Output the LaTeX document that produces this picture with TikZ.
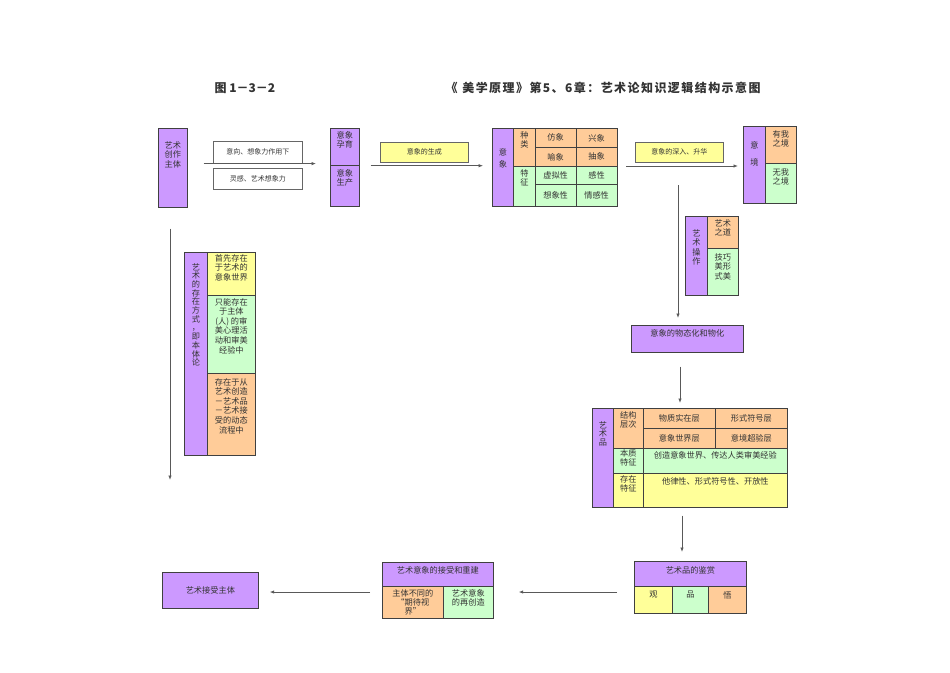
\documentclass[tikz,border=0pt]{standalone}
\usepackage{fontspec}
\setmainfont{Noto Sans CJK SC}
\usetikzlibrary{arrows.meta}
\definecolor{purp}{HTML}{CC99FF}
\definecolor{orng}{HTML}{FFCC99}
\definecolor{grn}{HTML}{CCFFCC}
\definecolor{yel}{HTML}{FFFF99}
\begin{document}
\begin{tikzpicture}[x=1pt, y=-1pt,
    every node/.style={font=\fontsize{8.2}{9.6}\selectfont, text=black!80},
    cell/.style={draw=black!75, line width=0.7pt, anchor=north west, inner sep=0pt, align=center},
    note/.style={draw=black!60, line width=0.6pt, anchor=north west, inner sep=0pt, font=\fontsize{7}{8}\selectfont},
    tt/.style={anchor=north, align=center, inner sep=0pt, yshift=-#1},
    heading/.style={anchor=west, font=\fontsize{12}{14}\selectfont\bfseries\addfontfeature{LetterSpace=12}},
    flow/.style={draw=black!65, line width=0.8pt, -{Latex[length=4.5pt,width=3.5pt]}}]

        \useasboundingbox (0,0) rectangle (950,672);

        % title
        \node[heading, font=\fontsize{12}{14}\selectfont\bfseries] (fig) at (211,88) {图 1－3－2};
        \node[heading] (title) at (442,88) {《\hspace{0.4em}美学原理》第5、6章：艺术论知识逻辑结构示意图};

        % top row
        \node[cell, fill=purp, minimum width=29, minimum height=79, label={[tt=13]north:艺术\\创作\\主体}] (creator) at (158,128) {};
        \node[note, minimum width=89, minimum height=22] (cond1) at (213,141) {意向、想象力作用下};
        \node[note, minimum width=89, minimum height=21] (cond2) at (213,168) {灵感、艺术想象力};

        \node[cell, fill=purp, minimum width=29, minimum height=37, label={[tt=3]north:意象\\孕育}] (nurture) at (330,128) {};
        \node[cell, fill=purp, minimum width=29, minimum height=41, label={[tt=4]north:意象\\生产}] (produce) at (330,165) {};
        \node[note, fill=yel, minimum width=88, minimum height=20] (genesis) at (380,142) {意象的生成};

        \node[cell, fill=purp, minimum width=21, minimum height=78, label={[tt=20]north:意\\[3pt]象}] (imgHead) at (492,128) {};
        \node[cell, fill=orng, minimum width=22, minimum height=38, label={[tt=3]north:种\\类}] (kind) at (513,128) {};
        \node[cell, fill=grn, minimum width=22, minimum height=40, label={[tt=3]north:特\\征}] (feat) at (513,166) {};
        \foreach \name/\x/\y/\txt in {fang/535/128/仿象, xing/576/128/兴象, yu/535/147/喻象, chou/576/147/抽象}
            \node[cell, fill=orng, minimum width=40.5, minimum height=19] (\name) at (\x,\y) {\txt};
        \foreach \name/\x/\txt in {xuni/535/虚拟性, gan/576/感性}
            \node[cell, fill=grn, minimum width=40.5, minimum height=18] (\name) at (\x,166) {\txt};
        \foreach \name/\x/\txt in {xiang/535/想象性, qing/576/情感性}
            \node[cell, fill=grn, minimum width=40.5, minimum height=22] (\name) at (\x,184) {\txt};

        \node[note, fill=yel, minimum width=88, minimum height=20] (deepen) at (635,142) {意象的深入、升华};

        \node[cell, fill=purp, minimum width=22, minimum height=77, label={[tt=15]north:意\\[8pt]境}] (realm) at (743,126) {};
        \node[cell, fill=orng, minimum width=31, minimum height=37, label={[tt=4]north:有我\\之境}] (youwo) at (765,126) {};
        \node[cell, fill=grn, minimum width=31, minimum height=40, label={[tt=5]north:无我\\之境}] (wuwo) at (765,163) {};

        % right column
        \node[cell, fill=purp, minimum width=22, minimum height=79, label={[tt=13]north:艺\\术\\操\\作}] (operate) at (685,216) {};
        \node[cell, fill=orng, minimum width=31, minimum height=32, label={[tt=3]north:艺术\\之道}] (dao) at (707,216) {};
        \node[cell, fill=grn, minimum width=31, minimum height=47, label={[tt=5]north:技巧\\美形\\式美}] (jiqiao) at (707,248) {};

        \node[cell, fill=purp, minimum width=112, minimum height=27, label={[tt=4]north:意象的物态化和物化}] (materialize) at (631,325) {};

        \node[cell, fill=purp, minimum width=21, minimum height=99, label={[tt=13, font=\fontsize{8.2}{8.7}\selectfont]north:艺\\术\\品}] (artHead) at (592,408) {};
        \node[cell, fill=orng, minimum width=30, minimum height=40, label={[tt=3]north:结构\\层次}] (struct) at (613,408) {};
        \foreach \name/\x/\y/\txt in {wuzhi/643/408/物质实在层, xingshi/715/408/形式符号层, yixiang/643/428/意象世界层, yijing/715/428/意境超验层}
            \node[cell, fill=orng, minimum width=72, minimum height=20] (\name) at (\x,\y) {\txt};
        \node[cell, fill=grn, minimum width=30, minimum height=25, label={[tt=1]north:本质\\特征}] (essence) at (613,448) {};
        \node[cell, fill=grn, minimum width=144, minimum height=25, label={[tt=3]north:创造意象世界、传达人类审美经验}] (essenceTxt) at (643,448) {};
        \node[cell, fill=yel, minimum width=30, minimum height=34, label={[tt=2]north:存在\\特征}] (exist) at (613,473) {};
        \node[cell, fill=yel, minimum width=144, minimum height=34, label={[tt=4]north:他律性、形式符号性、开放性}] (existTxt) at (643,473) {};

        % bottom row
        \node[cell, fill=purp, minimum width=112, minimum height=25, label={[tt=5]north:艺术品的鉴赏}] (appreciate) at (634,561) {};
        \node[cell, fill=yel, minimum width=38, minimum height=27, label={[tt=5]north:观}] (guan) at (634,586) {};
        \node[cell, fill=grn, minimum width=36, minimum height=27, label={[tt=5]north:品}] (pin) at (672,586) {};
        \node[cell, fill=orng, minimum width=38, minimum height=27, label={[tt=5]north:悟}] (wu) at (708,586) {};

        \node[cell, fill=purp, minimum width=111, minimum height=24, label={[tt=4]north:艺术意象的接受和重建}] (rebuild) at (382,562) {};
        \node[cell, fill=orng, minimum width=61, minimum height=32, label={[tt=3, font=\fontsize{8.2}{9}\selectfont]north:主体不同的\\“期待视\\界”}] (horizon) at (382,586) {};
        \node[cell, fill=grn, minimum width=50, minimum height=32, label={[tt=3]north:艺术意象\\的再创造}] (recreate) at (443,586) {};

        \node[cell, fill=purp, minimum width=96, minimum height=36] (receiver) at (162,572) {艺术接受主体};

        % left column
        \node[cell, fill=purp, minimum width=23, minimum height=203, label={[tt=11, font=\fontsize{8.2}{8.7}\selectfont]north:艺\\术\\的\\存\\在\\方\\式\\，\\即\\本\\体\\论}] (ontology) at (184,252) {};
        \node[cell, fill=yel, minimum width=48, minimum height=43, label={[tt=2]north:首先存在\\于艺术的\\意象世界}] (exist1) at (207,252) {};
        \node[cell, fill=grn, minimum width=48, minimum height=78, label={[tt=3]north:只能存在\\于主体\\(人) 的审\\美心理活\\动和审美\\经验中}] (exist2) at (207,295) {};
        \node[cell, fill=orng, minimum width=48, minimum height=82, label={[tt=5]north:存在于从\\艺术创造\\－艺术品\\－艺术接\\受的动态\\流程中}] (exist3) at (207,373) {};

        % connectors
        \coordinate (branch) at (678,185);
        \coordinate (leftend) at (170,480);
        \draw[flow, shorten <=16pt, shorten >=14pt] (creator.east |- cond1.south) -- (nurture.west |- cond1.south);
        \draw[flow, shorten <=11pt, shorten >=9pt] (nurture.south east) -- (imgHead.west |- nurture.south east);
        \draw[flow, shorten <=9pt, shorten >=5pt] (xing.east |- feat.north) -- (realm.west |- feat.north);
        \draw[flow, shorten >=7pt] (branch) -- (branch |- materialize.north);
        \draw[flow, shorten <=14pt, shorten >=5pt] ([xshift=2pt]branch |- materialize.south) -- ([xshift=2pt]branch |- struct.north);
        \draw[flow, shorten <=8pt, shorten >=9pt] ([xshift=4pt]branch |- existTxt.south) -- ([xshift=4pt]branch |- appreciate.north);
        \draw[flow, shorten <=17pt, shorten >=25pt] ([yshift=-6pt]guan.north west) -- ([yshift=-6pt]recreate.north east);
        \draw[flow, shorten <=12pt, shorten >=11pt] ([yshift=-6pt]horizon.north west) -- ([yshift=-6pt]horizon.north west -| receiver.east);
        \draw[flow, shorten <=21pt] (leftend |- creator.south) -- (leftend);
    \end{tikzpicture}
\end{document}
